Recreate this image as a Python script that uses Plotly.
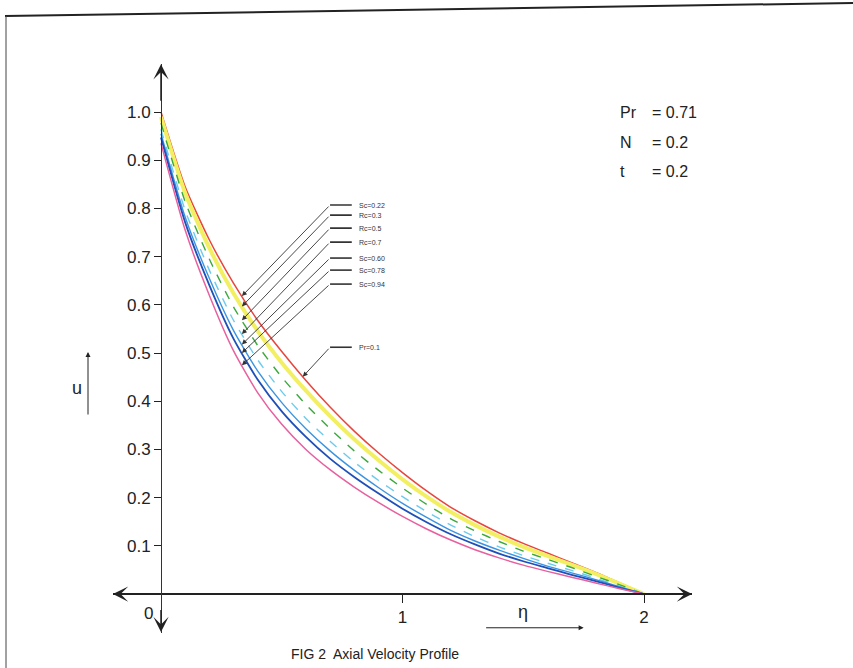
import numpy as np
import plotly.graph_objects as go

# Axial velocity u against eta for the parameter cases of Fig. 2
eta = [0.0, 0.1, 0.2, 0.3, 0.4, 0.5, 0.6, 0.7, 0.8, 0.9, 1.0,
       1.1, 1.2, 1.3, 1.4, 1.5, 1.6, 1.7, 1.8, 1.9, 2.0]

u_sc022 = [1.000, 0.845, 0.735, 0.645, 0.568, 0.503, 0.443, 0.388, 0.338, 0.293, 0.252,
           0.214, 0.180, 0.152, 0.127, 0.105, 0.085, 0.065, 0.045, 0.023, 0.000]
u_rc03 = [0.990, 0.832, 0.718, 0.624, 0.546, 0.480, 0.422, 0.369, 0.321, 0.278, 0.238,
          0.202, 0.170, 0.143, 0.119, 0.098, 0.079, 0.061, 0.042, 0.021, 0.000]
u_rc05 = [0.977, 0.814, 0.695, 0.596, 0.516, 0.450, 0.393, 0.343, 0.297, 0.257, 0.220,
          0.186, 0.156, 0.131, 0.109, 0.089, 0.072, 0.055, 0.037, 0.019, 0.000]
u_rc07 = [0.964, 0.796, 0.672, 0.568, 0.486, 0.420, 0.364, 0.317, 0.274, 0.236, 0.202,
          0.171, 0.143, 0.119, 0.098, 0.080, 0.064, 0.049, 0.033, 0.016, 0.000]
u_sc060 = [0.955, 0.782, 0.655, 0.547, 0.463, 0.397, 0.343, 0.297, 0.257, 0.221, 0.188,
           0.159, 0.132, 0.110, 0.091, 0.074, 0.058, 0.044, 0.030, 0.015, 0.000]
u_sc078 = [0.947, 0.771, 0.641, 0.530, 0.445, 0.379, 0.326, 0.281, 0.243, 0.209, 0.177,
           0.149, 0.124, 0.103, 0.084, 0.068, 0.054, 0.040, 0.027, 0.013, 0.000]
u_sc094 = [0.935, 0.755, 0.620, 0.505, 0.418, 0.352, 0.300, 0.258, 0.222, 0.190, 0.161,
           0.135, 0.112, 0.092, 0.075, 0.060, 0.047, 0.035, 0.023, 0.011, 0.000]

case_labels = ["Sc=0.22", "Rc=0.3", "Rc=0.5", "Rc=0.7", "Sc=0.60", "Sc=0.78", "Sc=0.94"]
pr_label = "Pr=0.1"

y_ticks = [0.1, 0.2, 0.3, 0.4, 0.5, 0.6, 0.7, 0.8, 0.9, 1.0]
y_tick_labels = ["0.1", "0.2", "0.3", "0.4", "0.5", "0.6", "0.7", "0.8", "0.9", "1.0"]
x_ticks = [1, 2]
x_tick_labels = ["1", "2"]

params = [("Pr", "= 0.71"), ("N", "= 0.2"), ("t", "= 0.2")]

series = [u_sc022, u_rc03, u_rc05, u_rc07, u_sc060, u_sc078, u_sc094]
styles = [
    dict(color="#e8453c", width=1.5, dash="solid"),
    dict(color="#f3ef62", width=4, dash="solid"),
    dict(color="#3aa83a", width=1.4, dash="dash"),
    dict(color="#6ccbec", width=1.4, dash="dash"),
    dict(color="#3a94e2", width=1.4, dash="solid"),
    dict(color="#1f4fb8", width=1.8, dash="solid"),
    dict(color="#e8609e", width=1.5, dash="solid"),
]

W, H = 853, 668
XR = [-0.2, 2.2]
YR = [-0.08, 1.1]
XDOM = [112.7 / W, 692.3 / W]
YDOM = [1 - 632.6 / H, 1 - 63.8 / H]

FONT = "Liberation Sans, Arial, sans-serif"

fig = go.Figure()
for name, ys, st in zip(case_labels, series, styles):
    fig.add_trace(go.Scatter(x=eta, y=ys, mode="lines", name=name,
                             line=dict(shape="spline", smoothing=0.6, **st),
                             showlegend=False, hoverinfo="skip"))

# Axis lines sit at the data origin
x0_paper = XDOM[0] + (0 - XR[0]) / (XR[1] - XR[0]) * (XDOM[1] - XDOM[0])
y0_paper = YDOM[0] + (0 - YR[0]) / (YR[1] - YR[0]) * (YDOM[1] - YDOM[0])

annotations = []
shapes = []


def axis_arrow(tip, tail):
    """Arrowhead drawn over the end of an axis line."""
    return dict(x=tip[0], y=tip[1], ax=tail[0], ay=tail[1], xref="x", yref="y",
                axref="x", ayref="y", text="", showarrow=True, arrowhead=3,
                arrowsize=1.7, arrowwidth=1.5, arrowcolor="#222", standoff=0)


annotations += [
    axis_arrow((XR[1] - 0.001, 0), (XR[1] - 0.2, 0)),
    axis_arrow((XR[0] + 0.001, 0), (XR[0] + 0.15, 0)),
    axis_arrow((0, YR[1] - 0.001), (0, YR[1] - 0.08)),
    axis_arrow((0, YR[0] + 0.001), (0, YR[0] + 0.05)),
]

# Case labels with leader arrows pointing to their curves
label_y = [0.807, 0.786, 0.759, 0.730, 0.697, 0.672, 0.643]
x_tip = 0.335
for lab, ly, ys in zip(case_labels, label_y, series):
    tip_y = float(np.interp(x_tip, eta, ys))
    annotations.append(dict(x=x_tip, y=tip_y, ax=0.70, ay=ly, xref="x", yref="y",
                            axref="x", ayref="y", text="", showarrow=True,
                            arrowhead=2, arrowsize=1.1, arrowwidth=0.9,
                            arrowcolor="#333", standoff=0))
    shapes.append(dict(type="line", x0=0.70, x1=0.79, y0=ly, y1=ly, xref="x", yref="y",
                       line=dict(color="#333", width=1.6)))
    annotations.append(dict(x=0.812, y=ly, xref="x", yref="y", text=lab, showarrow=False,
                            xanchor="left", yanchor="middle",
                            font=dict(family=FONT, size=7, color="#333")))

pr_y = 0.512
pr_tip_x = 0.587
annotations.append(dict(x=pr_tip_x, y=float(np.interp(pr_tip_x, eta, u_sc022)),
                        ax=0.70, ay=pr_y, xref="x", yref="y", axref="x", ayref="y",
                        text="", showarrow=True, arrowhead=2, arrowsize=1.1,
                        arrowwidth=0.9, arrowcolor="#333", standoff=0))
shapes.append(dict(type="line", x0=0.70, x1=0.79, y0=pr_y, y1=pr_y, xref="x", yref="y",
                   line=dict(color="#333", width=1.6)))
annotations.append(dict(x=0.812, y=pr_y, xref="x", yref="y", text=pr_label,
                        showarrow=False, xanchor="left", yanchor="middle",
                        font=dict(family=FONT, size=7, color="#333")))

# Parameter block, top right
for i, (k, v) in enumerate(params):
    yy = 0.998 - i * 0.061
    annotations.append(dict(x=1.892, y=yy, xref="x", yref="y", text=k, showarrow=False,
                            xanchor="left", yanchor="middle",
                            font=dict(family=FONT, size=16, color="#222")))
    annotations.append(dict(x=2.025, y=yy, xref="x", yref="y", text=v, showarrow=False,
                            xanchor="left", yanchor="middle",
                            font=dict(family=FONT, size=16, color="#222")))

# Origin label and eta label with its arrow
annotations.append(dict(x=0, y=0, xref="x", yref="y", text="0", showarrow=False,
                        xshift=-13, yshift=-19, font=dict(family=FONT, size=17, color="#222")))
annotations.append(dict(x=1.5, y=0, xref="x", yref="y", text="η", showarrow=False,
                        yshift=-18, font=dict(family=FONT, size=18, color="#222")))
annotations.append(dict(x=1.75, y=-0.07, ax=1.34, ay=-0.07, xref="x", yref="y",
                        axref="x", ayref="y", text="", showarrow=True, arrowhead=2,
                        arrowsize=1, arrowwidth=1, arrowcolor="#222", standoff=0))

# u label with upward arrow
annotations.append(dict(x=70 / W, y=1 - 388 / H, xref="paper", yref="paper", text="u",
                        showarrow=False, font=dict(family=FONT, size=18, color="#222")))
annotations.append(dict(x=88 / W, y=1 - 352 / H, xref="paper", yref="paper", text="",
                        showarrow=True, ax=0, ay=64, arrowhead=2, arrowsize=1,
                        arrowwidth=1, arrowcolor="#222", standoff=0))

# Caption
annotations.append(dict(x=375 / W, y=1 - 654 / H, xref="paper", yref="paper",
                        xanchor="center", yanchor="middle",
                        text="FIG 2  Axial Velocity Profile", showarrow=False,
                        font=dict(family=FONT, size=14, color="#222")))

# Page frame
shapes.append(dict(type="line", xref="paper", yref="paper", x0=5 / W, y0=1 - 16 / H,
                   x1=1, y1=1 - 3 / H, line=dict(color="#222", width=2)))
shapes.append(dict(type="line", xref="paper", yref="paper", x0=6 / W, y0=1 - 16 / H,
                   x1=6 / W, y1=0, line=dict(color="#444", width=1)))

fig.update_layout(
    width=W, height=H,
    margin=dict(l=0, r=0, t=0, b=0),
    paper_bgcolor="white", plot_bgcolor="white",
    font=dict(family=FONT, color="#222"),
    xaxis=dict(domain=XDOM, range=XR, anchor="free", position=y0_paper,
               showgrid=False, zeroline=False, showline=True, linecolor="#222",
               linewidth=2, ticks="outside", ticklen=8, tickwidth=1.2, tickcolor="#222",
               tickvals=x_ticks, ticktext=x_tick_labels,
               tickfont=dict(family=FONT, size=17, color="#222")),
    yaxis=dict(domain=YDOM, range=YR, anchor="free", position=x0_paper,
               showgrid=False, zeroline=False, showline=True, linecolor="#333",
               linewidth=1, ticks="outside", ticklen=7, tickwidth=1.2, tickcolor="#222",
               tickvals=y_ticks, ticktext=y_tick_labels,
               tickfont=dict(family=FONT, size=17, color="#222")),
    annotations=annotations,
    shapes=shapes,
)

fig.write_html("out.html")
